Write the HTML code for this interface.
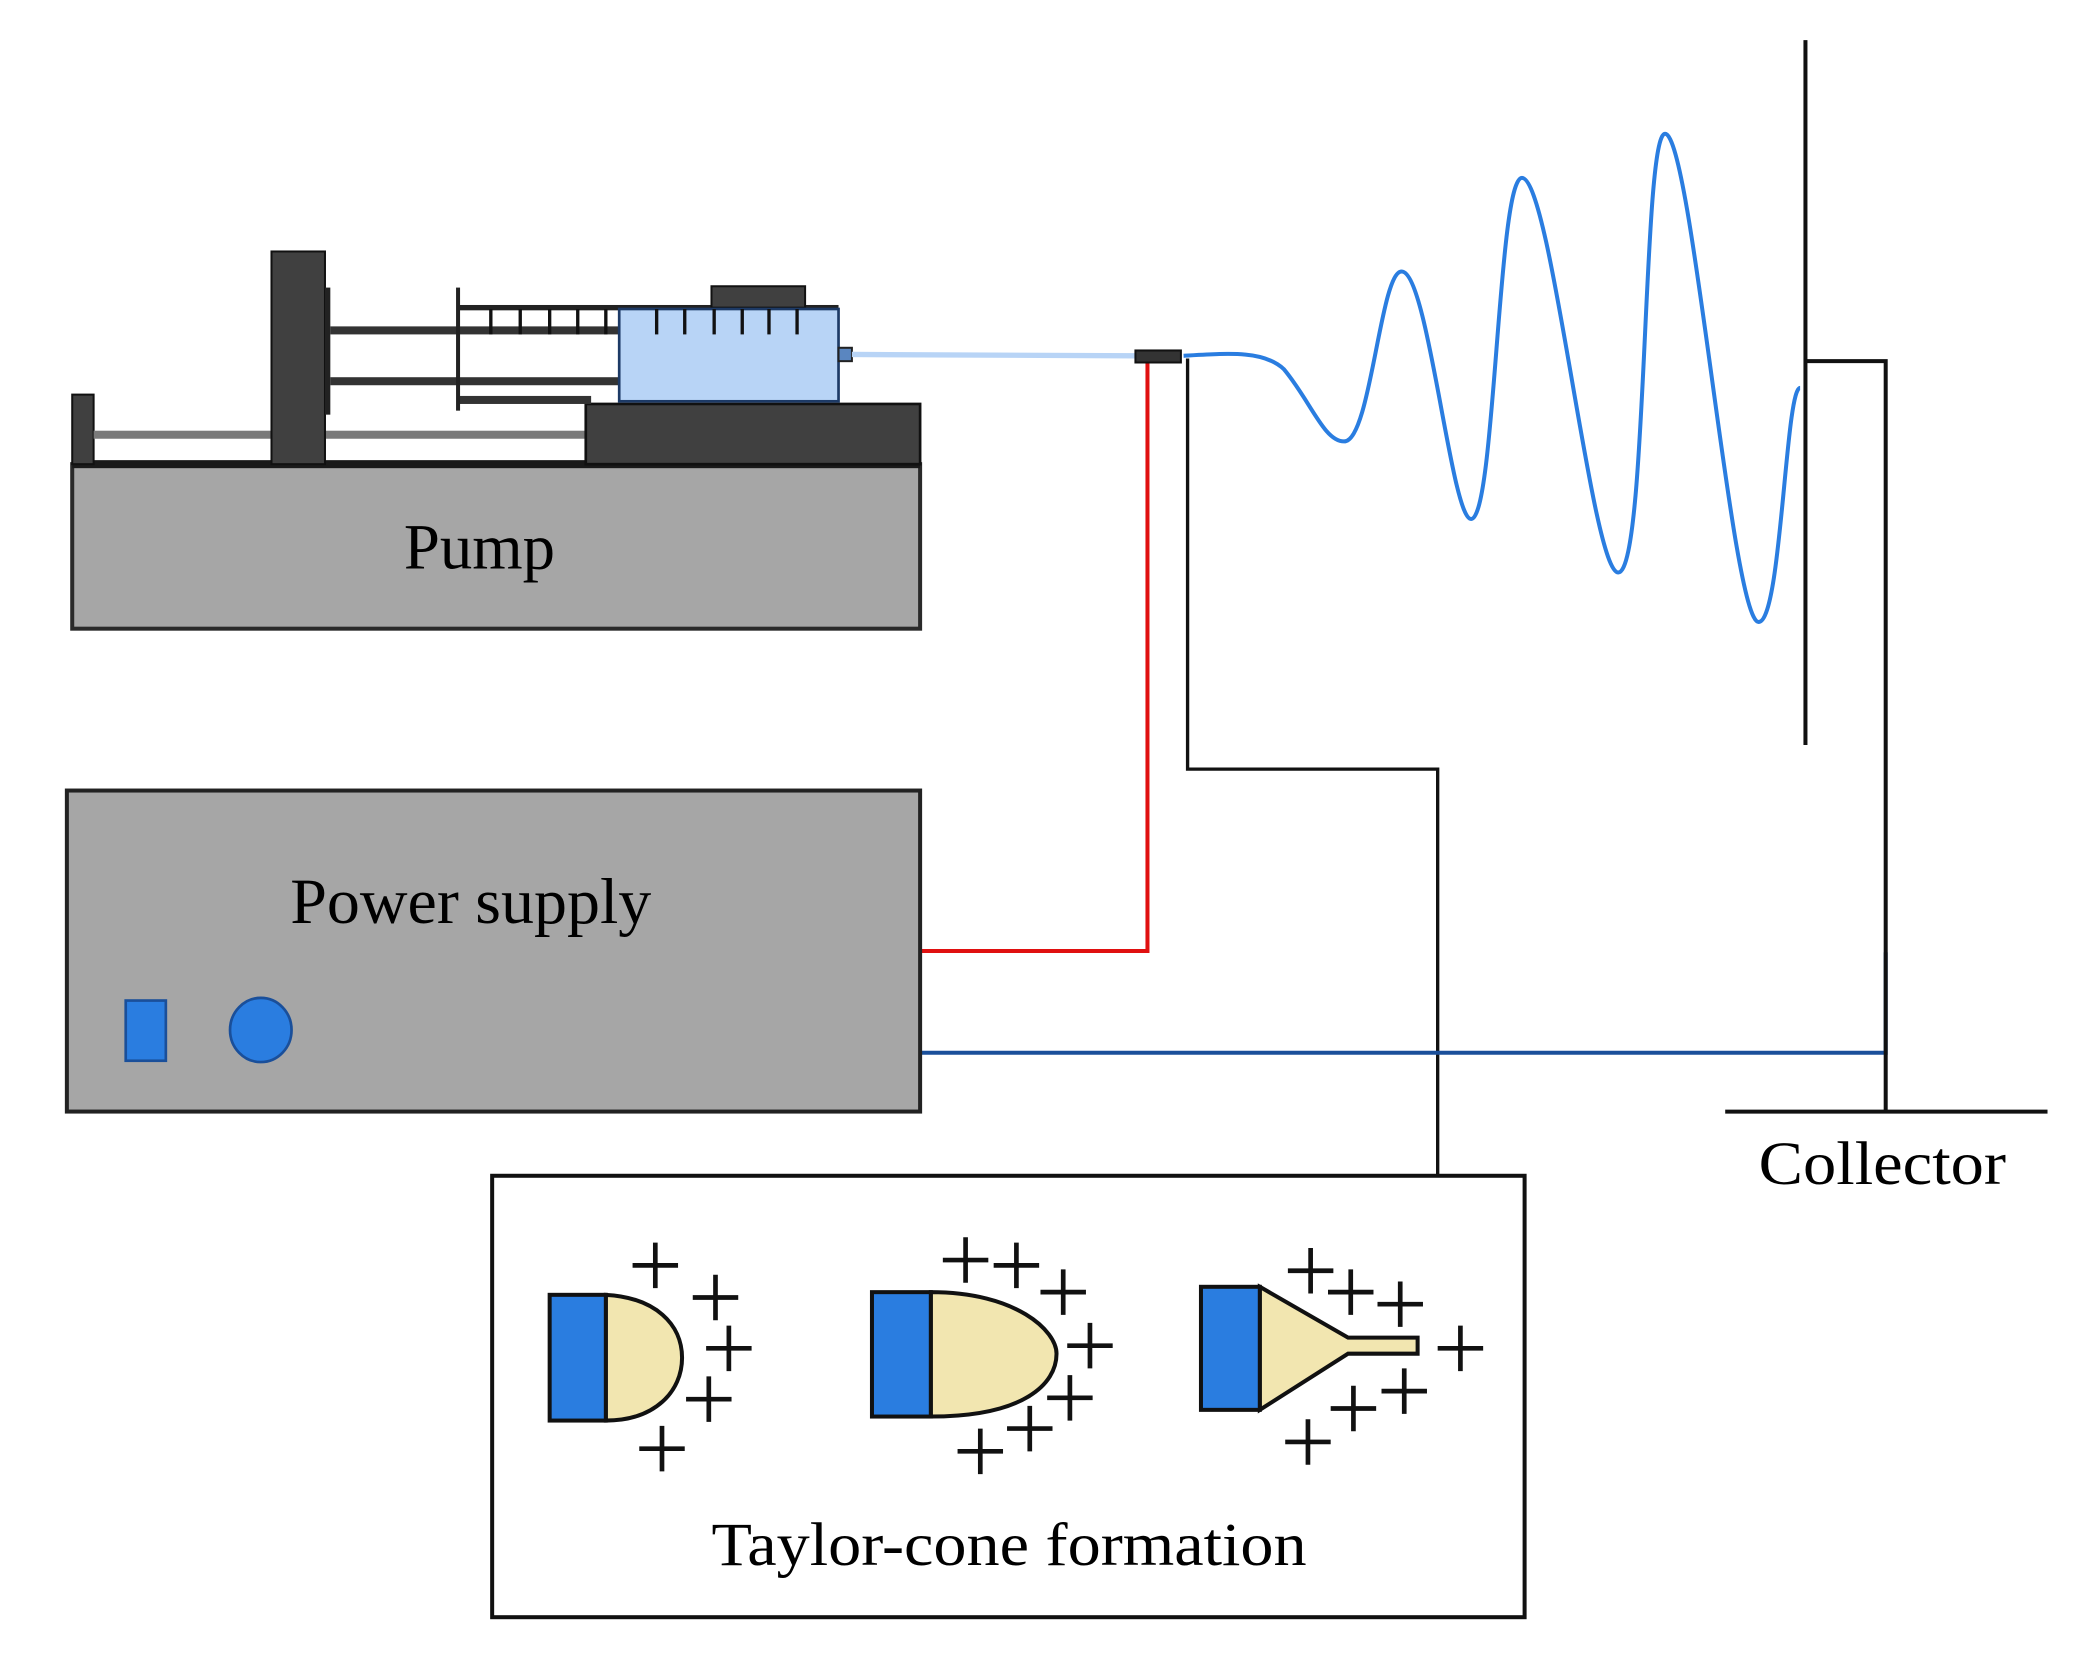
<!DOCTYPE html>
<html><head><meta charset="utf-8"><style>html,body{margin:0;padding:0;background:#fff}svg{display:block}</style></head>
<body>
<svg width="2097" height="1660" viewBox="0 0 1568 1241" preserveAspectRatio="none" xmlns="http://www.w3.org/2000/svg" font-family="Liberation Serif, serif">
<rect width="1568" height="1241" fill="#fff"/>
<!-- Pump -->
<rect x="54" y="347" width="634" height="123" fill="#a6a6a6" stroke="#2a2a2a" stroke-width="3"/>
<rect x="54" y="344" width="634" height="6" fill="#1a1a1a"/>
<rect x="54" y="295" width="16" height="52" fill="#404040" stroke="#111" stroke-width="1.5"/>
<rect x="70" y="322" width="370" height="6" fill="#7a7a7a"/>
<rect x="203" y="188" width="40" height="159" fill="#404040" stroke="#111" stroke-width="1.5"/>
<rect x="243" y="215" width="4" height="95" fill="#222"/>
<rect x="438" y="302" width="250" height="45" fill="#404040" stroke="#111" stroke-width="2"/>
<rect x="247" y="244" width="216" height="6" fill="#333"/>
<rect x="247" y="282" width="216" height="6" fill="#333"/>
<rect x="342" y="296" width="100" height="6" fill="#333"/>
<rect x="341" y="215" width="3" height="92" fill="#222"/>
<rect x="342" y="228" width="285" height="4" fill="#222"/>
<rect x="532" y="214" width="70" height="16" fill="#404040" stroke="#111" stroke-width="1.5"/>
<rect x="463" y="231" width="164" height="69" fill="#b8d4f6" stroke="#1d3a66" stroke-width="2"/>
<g stroke="#111" stroke-width="2.5">
<line x1="367" y1="231" x2="367" y2="250"/><line x1="389" y1="231" x2="389" y2="250"/><line x1="411" y1="231" x2="411" y2="250"/><line x1="432" y1="231" x2="432" y2="250"/><line x1="453" y1="231" x2="453" y2="250"/>
<line x1="491" y1="231" x2="491" y2="250"/><line x1="512" y1="231" x2="512" y2="250"/><line x1="534" y1="231" x2="534" y2="250"/><line x1="555" y1="231" x2="555" y2="250"/><line x1="575" y1="231" x2="575" y2="250"/><line x1="596" y1="231" x2="596" y2="250"/>
</g>
<rect x="627" y="260" width="10" height="10" fill="#5a86c0" stroke="#222" stroke-width="1.5"/>
<line x1="637" y1="265" x2="850" y2="266" stroke="#b8d4f6" stroke-width="4"/>
<!-- wires -->
<polyline points="858,270 858,711 688,711" fill="none" stroke="#e01010" stroke-width="3"/>
<polyline points="888,268 888,575 1075,575 1075,880" fill="none" stroke="#111" stroke-width="2.5"/>
<polyline points="688,787 1410,787 1410,712" fill="none" stroke="#1a4f9a" stroke-width="3"/>
<rect x="849" y="262" width="34" height="9" fill="#333" stroke="#111" stroke-width="1.5"/>
<!-- jet -->
<path d="M885,266 C920,264 945,262 960,276 C980,300 990,330 1005,330 C1025,330 1032,203 1048,203 C1068,203 1085,388 1100,388 C1118,388 1120,133 1138,133 C1160,133 1190,428 1210,428 C1232,428 1228,100 1245,100 C1265,100 1295,465 1315,465 C1332,465 1335,290 1346,290" fill="none" stroke="#2a7de0" stroke-width="3"/>
<!-- collector -->
<line x1="1350" y1="30" x2="1350" y2="557" stroke="#111" stroke-width="3"/>
<polyline points="1350,270 1410,270 1410,831" fill="none" stroke="#111" stroke-width="3"/>
<line x1="1290" y1="831" x2="1531" y2="831" stroke="#111" stroke-width="3"/>
<text x="1315" y="885" font-size="46" textLength="185" lengthAdjust="spacingAndGlyphs">Collector</text>
<text x="302" y="425" font-size="48" textLength="113" lengthAdjust="spacingAndGlyphs">Pump</text>
<!-- power supply -->
<rect x="50" y="591" width="638" height="240" fill="#a6a6a6" stroke="#222" stroke-width="3"/>
<text x="217" y="690" font-size="48" textLength="270" lengthAdjust="spacingAndGlyphs">Power supply</text>
<rect x="94" y="748" width="30" height="45" fill="#2a7de0" stroke="#1a4f9a" stroke-width="2"/>
<ellipse cx="195" cy="770" rx="23" ry="24" fill="#2a7de0" stroke="#1a4f9a" stroke-width="2"/>
<!-- Taylor box -->
<rect x="368" y="879" width="772" height="330" fill="#fff" stroke="#111" stroke-width="3"/>
<text x="532" y="1170" font-size="46" textLength="445" lengthAdjust="spacingAndGlyphs">Taylor-cone formation</text>
<g stroke="#111" stroke-width="3">
<path d="M453,968 C490,970 510,990 510,1015 C510,1040 490,1062 453,1062 Z" fill="#f2e6b0"/>
<rect x="411" y="968" width="42" height="94" fill="#2a7de0"/>
<path d="M696,966 C760,966 790,995 790,1012 C790,1035 765,1059 696,1059 Z" fill="#f2e6b0"/>
<rect x="652" y="966" width="44" height="93" fill="#2a7de0"/>
<path d="M942,962 L1008,1000 L1060,1000 L1060,1012 L1008,1012 L942,1054 Z" fill="#f2e6b0"/>
<rect x="898" y="962" width="44" height="92" fill="#2a7de0"/>
</g>
<g stroke="#111" stroke-width="3.5" fill="none">
<path d="M473,946h34M490,929v34"/><path d="M518,970h34M535,953v34"/><path d="M528,1008h34M545,991v34"/><path d="M513,1046h34M530,1029v34"/><path d="M478,1083h34M495,1066v34"/>
<path d="M705,942h34M722,925v34"/><path d="M743,946h34M760,929v34"/><path d="M778,966h34M795,949v34"/><path d="M798,1006h34M815,989v34"/><path d="M783,1045h34M800,1028v34"/><path d="M753,1068h34M770,1051v34"/><path d="M716,1085h34M733,1068v34"/>
<path d="M963,950h34M980,933v34"/><path d="M993,966h34M1010,949v34"/><path d="M1030,975h34M1047,958v34"/><path d="M1075,1008h34M1092,991v34"/><path d="M1033,1040h34M1050,1023v34"/><path d="M995,1053h34M1012,1036v34"/><path d="M961,1078h34M978,1061v34"/>
</g>
</svg>
</body></html>
